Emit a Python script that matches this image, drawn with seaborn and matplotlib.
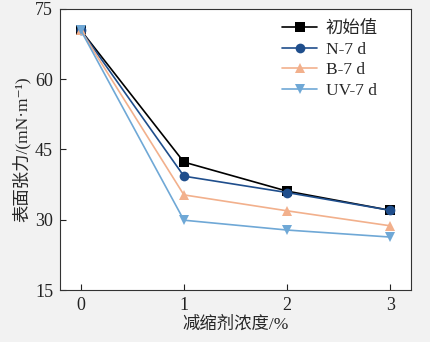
import matplotlib
matplotlib.use("Agg")
import matplotlib.pyplot as plt
import seaborn as sns
import pandas as pd

conc = [0, 1, 2, 3]
series_names = ["初始值", "N-7 d", "B-7 d", "UV-7 d"]
v_init = [70.5, 42.3, 36.1, 32.0]
v_n7 = [70.5, 39.3, 35.8, 32.0]
v_b7 = [70.5, 35.3, 31.9, 28.7]
v_uv7 = [70.5, 29.9, 27.8, 26.3]
y_ticks = [15, 30, 45, 60, 75]

sns.set_theme(style="ticks")
plt.rcParams['font.family'] = ['Liberation Serif', 'Noto Sans CJK SC', 'DejaVu Serif', 'DejaVu Sans']

rows = []
for name, vals in zip(series_names, [v_init, v_n7, v_b7, v_uv7]):
    for c, v in zip(conc, vals):
        rows.append({"conc": c, "val": v, "series": name})
df = pd.DataFrame(rows)

colors = {"初始值": "#000000", "N-7 d": "#1f4e8c", "B-7 d": "#f2b08c", "UV-7 d": "#6fa8d6"}
markers = {"初始值": "s", "N-7 d": "o", "B-7 d": "^", "UV-7 d": "v"}

fig = plt.figure(figsize=(4.3, 3.42), dpi=100, facecolor="#f2f2f2")
ax = fig.add_axes([0.1395, 0.152, 0.8165, 0.822])
ax.set_facecolor("white")

sns.lineplot(data=df, x="conc", y="val", hue="series", style="series",
             hue_order=series_names, style_order=series_names,
             palette=colors, markers=markers, dashes=False,
             markersize=7, markeredgewidth=0, linewidth=1.2, ax=ax)

ax.set_xlim(-0.2, 3.2)
ax.set_ylim(15, 75)
ax.set_xticks(conc)
ax.set_yticks(y_ticks)
ax.tick_params(direction="in", length=4, width=0.8, labelsize=13, colors="#222222", pad=5)
for s in ax.spines.values():
    s.set_linewidth(0.8)
    s.set_color("#333333")
ax.set_xlabel("减缩剂浓度/%", fontsize=12.5, labelpad=2)
ax.set_ylabel("表面张力/(mN·m⁻¹)", fontsize=12.5, labelpad=3)

leg = ax.legend(loc="upper right", frameon=False, fontsize=12.5,
                handlelength=2.0, handletextpad=0.5, labelspacing=0.25,
                borderaxespad=0.3, bbox_to_anchor=(0.94, 1.0), title=None)

fig.savefig("out.png", dpi=100, facecolor=fig.get_facecolor())
